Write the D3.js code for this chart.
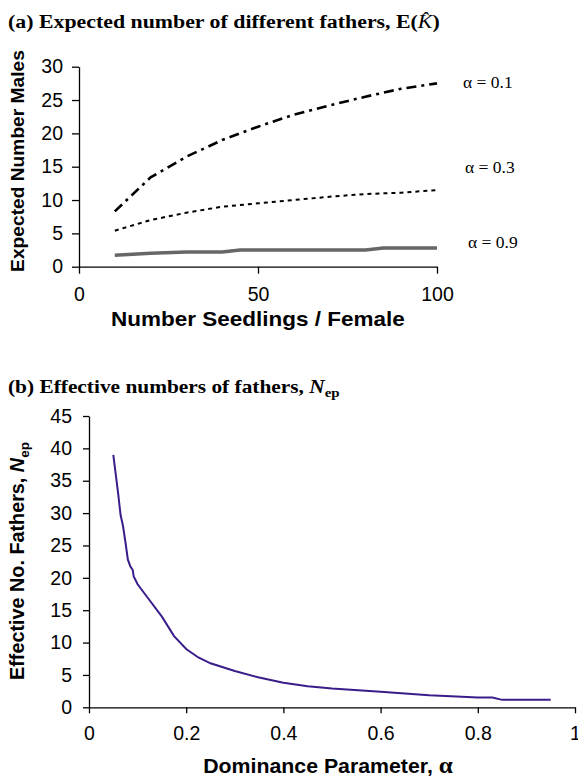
<!DOCTYPE html>
<html>
<head>
<meta charset="utf-8">
<script src="https://cdn.jsdelivr.net/npm/d3@7"></script>
<style>
  html, body { margin: 0; padding: 0; background: #fff; }
  svg { display: block; }
</style>
</head>
<body>
<script>
// ---------- Data (panel a) ----------
const seedlings = [10, 20, 30, 40, 50, 60, 70, 80, 90, 100];
const males01 = [8.3, 13.4, 16.5, 19.0, 21.0, 22.8, 24.2, 25.5, 26.7, 27.5];
const males03 = [5.4, 7.0, 8.1, 9.0, 9.5, 10.0, 10.5, 10.9, 11.1, 11.5];
const seedlings09 = [10, 20, 30, 40, 45, 50, 60, 70, 80, 85, 90, 100];
const males09 = [1.7, 2.0, 2.2, 2.2, 2.5, 2.5, 2.5, 2.5, 2.5, 2.8, 2.8, 2.8];
const seriesLabels = ["α = 0.1", "α = 0.3", "α = 0.9"];
const xTicksA = [0, 50, 100];
const yTicksA = [0, 5, 10, 15, 20, 25, 30];

// ---------- Data (panel b) ----------
const alpha = [0.05, 0.06, 0.065, 0.07, 0.075, 0.08, 0.085, 0.09, 0.092, 0.1, 0.12, 0.15, 0.175, 0.2, 0.225, 0.25, 0.3, 0.35, 0.4, 0.45, 0.5, 0.6, 0.7, 0.8, 0.83, 0.85, 0.9, 0.95];
const nep   = [39, 33, 29.7, 28, 25.5, 22.8, 21.8, 21.2, 20.2, 19, 17, 14, 11, 9, 7.7, 6.8, 5.6, 4.6, 3.8, 3.25, 2.9, 2.4, 1.85, 1.5, 1.5, 1.15, 1.15, 1.15];
const xTicksB = [0, 0.2, 0.4, 0.6, 0.8, 1];
const yTicksB = [0, 5, 10, 15, 20, 25, 30, 35, 40, 45];

const W = 578, H = 777;
const svg = d3.select("body").append("svg").attr("width", W).attr("height", H);

const sans = "'Liberation Sans', Arial, sans-serif";
const serif = "'Liberation Serif', 'Times New Roman', serif";

function styleAxis(g) {
  g.selectAll("path.domain").attr("stroke", "#000").attr("stroke-width", 1.3);
  g.selectAll(".tick line").attr("stroke", "#000").attr("stroke-width", 1.3);
  g.selectAll(".tick text").attr("font-family", sans).attr("font-size", 19.5).attr("fill", "#000");
}

// stretch a horizontal text horizontally so it spans the wanted width (anchor-aware)
function fitWidth(sel, targetWidth) {
  const bb = sel.node().getBBox();
  const s = targetWidth / bb.width;
  const cx = bb.x;
  sel.attr("transform", `translate(${cx},0) scale(${s},1) translate(${-cx},0)`);
}
function fitWidthCenter(sel, targetWidth, cx) {
  const bb = sel.node().getBBox();
  const s = targetWidth / bb.width;
  sel.attr("transform", `translate(${cx},0) scale(${s},1) translate(${-cx},0)`);
}

// ================= Panel (a) =================
const xA = d3.scaleLinear().domain([0, 100]).range([79, 437]);
const yA = d3.scaleLinear().domain([0, 30]).range([266.7, 66.7]);

const tA = svg.append("text").attr("x", 8).attr("y", 28)
  .attr("font-family", serif).attr("font-weight", "bold").attr("font-size", 18.5);
tA.append("tspan").text("(a) Expected number of different fathers, E(");
tA.append("tspan").attr("font-style", "italic").attr("font-weight", "normal").text("K\u0302");
tA.append("tspan").text(")");
fitWidth(tA, 432);

svg.append("g").attr("transform", `translate(0,${yA(0)})`)
  .call(d3.axisBottom(xA).tickValues(xTicksA).tickFormat(d3.format("d")).tickSize(7).tickSizeOuter(0).tickPadding(13))
  .call(styleAxis);
svg.append("g").attr("transform", `translate(${xA(0)},0)`)
  .call(d3.axisLeft(yA).tickValues(yTicksA).tickSize(7).tickSizeOuter(0).tickPadding(9))
  .call(styleAxis);

const xtA = svg.append("text").attr("x", 258).attr("y", 326)
  .attr("text-anchor", "middle").attr("font-family", sans).attr("font-weight", "bold").attr("font-size", 19.5)
  .text("Number Seedlings / Female");
fitWidthCenter(xtA, 294, 258);
svg.append("text").attr("transform", `translate(24,161) rotate(-90)`)
  .attr("text-anchor", "middle").attr("font-family", sans).attr("font-weight", "bold").attr("font-size", 19.2)
  .text("Expected Number Males");

const lineA = d3.line().x(d => xA(d[0])).y(d => yA(d[1]));
svg.append("path").datum(seedlings.map((s, i) => [s, males01[i]]))
  .attr("d", lineA).attr("fill", "none").attr("stroke", "#000").attr("stroke-width", 2.6)
  .attr("stroke-dasharray", "10,5,3,5");
svg.append("path").datum(seedlings.map((s, i) => [s, males03[i]]))
  .attr("d", lineA).attr("fill", "none").attr("stroke", "#000").attr("stroke-width", 2)
  .attr("stroke-dasharray", "4,4");
svg.append("path").datum(seedlings09.map((s, i) => [s, males09[i]]))
  .attr("d", lineA).attr("fill", "none").attr("stroke", "#666").attr("stroke-width", 3.5);

const labelPos = [[463, 88], [465, 173], [468, 248]];
seriesLabels.forEach((t, i) => {
  svg.append("text").attr("x", labelPos[i][0]).attr("y", labelPos[i][1])
    .attr("font-family", serif).attr("font-size", 17.5).text(t);
});

// ================= Panel (b) =================
const xB = d3.scaleLinear().domain([0, 1]).range([89, 575]);
const yB = d3.scaleLinear().domain([0, 45]).range([707.3, 416]);

const tB = svg.append("text").attr("x", 8).attr("y", 393)
  .attr("font-family", serif).attr("font-weight", "bold").attr("font-size", 18.5);
tB.append("tspan").text("(b) Effective numbers of fathers, ");
tB.append("tspan").attr("font-style", "italic").text("N");
tB.append("tspan").attr("font-size", 13).attr("dy", 4).text("ep");
fitWidth(tB, 332);

svg.append("g").attr("transform", `translate(0,${yB(0)})`)
  .call(d3.axisBottom(xB).tickValues(xTicksB).tickFormat(d => d === 0 || d === 1 ? d3.format("d")(d) : d3.format(".1f")(d))
    .tickSize(6).tickSizeOuter(0).tickPadding(13))
  .call(styleAxis);
svg.append("g").attr("transform", `translate(${xB(0)},0)`)
  .call(d3.axisLeft(yB).tickValues(yTicksB).tickSize(6).tickSizeOuter(0).tickPadding(11))
  .call(styleAxis);

const xtB = svg.append("text").attr("x", 328).attr("y", 773)
  .attr("text-anchor", "middle").attr("font-family", sans).attr("font-weight", "bold").attr("font-size", 19.5);
xtB.append("tspan").text("Dominance Parameter, ");
xtB.append("tspan").attr("font-family", serif).attr("font-size", 23).text("α");
fitWidthCenter(xtB, 250, 328);

const ytB = svg.append("text").attr("transform", `translate(24,561) rotate(-90)`)
  .attr("text-anchor", "middle").attr("font-family", sans).attr("font-weight", "bold").attr("font-size", 19.8);
ytB.append("tspan").text("Effective No. Fathers, ");
ytB.append("tspan").attr("font-style", "italic").text("N");
ytB.append("tspan").attr("font-size", 13.5).attr("dy", 5).text("ep");

const lineB = d3.line().x(d => xB(d[0])).y(d => yB(d[1]));
svg.append("path").datum(alpha.map((a, i) => [a, nep[i]]))
  .attr("d", lineB).attr("fill", "none").attr("stroke", "#3a1d8a").attr("stroke-width", 2);
</script>
</body>
</html>
